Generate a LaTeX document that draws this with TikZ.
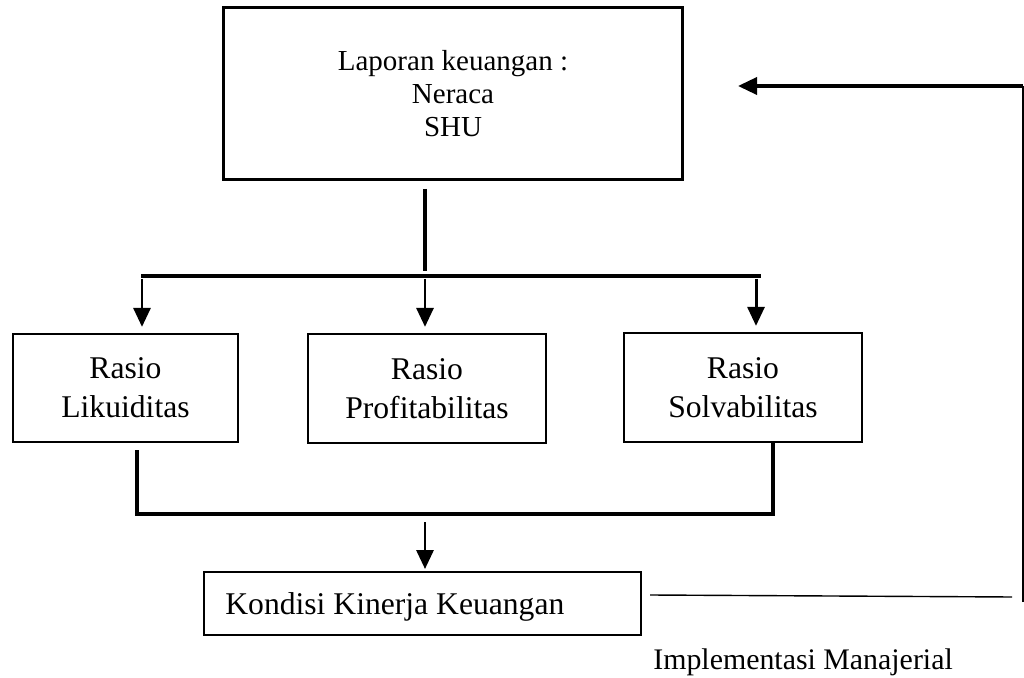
\documentclass[tikz,border=0pt]{standalone}
\usepackage{fontspec}
\setmainfont{Liberation Serif}
\usetikzlibrary{arrows.meta, positioning, calc}

\begin{document}
\begin{tikzpicture}[x=0.02cm, y=-0.02cm,
    kotak/.style={rectangle,draw=black,line width=1.3pt},
    teks/.style={font=\fontsize{18}{22.2}\selectfont},
    garis/.style={line width=2pt},
    panah/.style={line width=1.7pt,-{Triangle[length=0.38cm,width=0.34cm]}},
    tipis/.style={line width=0.8pt}]
    \useasboundingbox (0,0) rectangle (1024,678);

    % Laporan keuangan
    \node[kotak,line width=1.7pt,minimum width=9.2cm,minimum height=3.46cm,align=center,font=\fontsize{16.5}{18.8}\selectfont] (lapkeu) at (453,93.5) {Laporan keuangan :\\Neraca\\SHU};

    % Rasio
    \node[kotak,teks,minimum width=4.5cm,minimum height=2.16cm,align=center] (likuid) at (125.5,388) {Rasio\\Likuiditas};
    \node[kotak,teks,minimum width=4.76cm,minimum height=2.18cm,align=center] (profit) at (427,388.5) {Rasio\\Profitabilitas};
    \node[kotak,teks,minimum width=4.76cm,minimum height=2.18cm,align=center] (solva) at (743,387.5) {Rasio\\Solvabilitas};

    % Kondisi kinerja
    \node[kotak,line width=1.1pt,minimum width=8.74cm,minimum height=1.26cm] (kondisi) at (422.5,603.5) {};
    \node[teks,anchor=base west,inner sep=0pt] (kondisiteks) at (225,614) {Kondisi Kinerja Keuangan};
    \node[anchor=base west,inner sep=0pt,font=\fontsize{17}{20}\selectfont] (impl) at (653,669) {Implementasi Manajerial};

    % Cabang atas
    \coordinate (batang) at (425,189);
    \coordinate (busw) at (141,276);
    \coordinate (buse) at (761,276);
    \draw[garis,shorten >=0.1cm] (batang) -- (batang |- busw);
    \draw[garis] (busw) -- (buse);
    \foreach \x/\n in {142/likuid,425/profit,756/solva}
        \draw[panah,shorten >=0.12cm] (\x,279) -- (\x,0 |- \n.north);

    % Gabungan bawah
    \coordinate (gabw) at (137,514);
    \coordinate (gabe) at (773,514);
    \draw[garis] (gabw |- likuid.south) ++(0,7) -- (gabw) -- (gabe) -- (gabe |- solva.south);
    \coordinate (turun) at (425,522);
    \draw[panah,shorten >=0.04cm] (turun) -- (turun |- kondisi.north);

    % Umpan balik
    \coordinate (fbmulai) at (650,595);
    \coordinate (fbakhir) at (1012,597);
    \coordinate (fbbawah) at (1023,602);
    \coordinate (fbatas) at (1023,86);
    \coordinate (fbujung) at (738,86);
    \draw[tipis] (fbmulai) -- (fbakhir);
    \draw[tipis] (fbbawah) -- (fbatas);
    \draw[panah,line width=2pt] (fbatas) -- (fbujung);
\end{tikzpicture}
\end{document}
